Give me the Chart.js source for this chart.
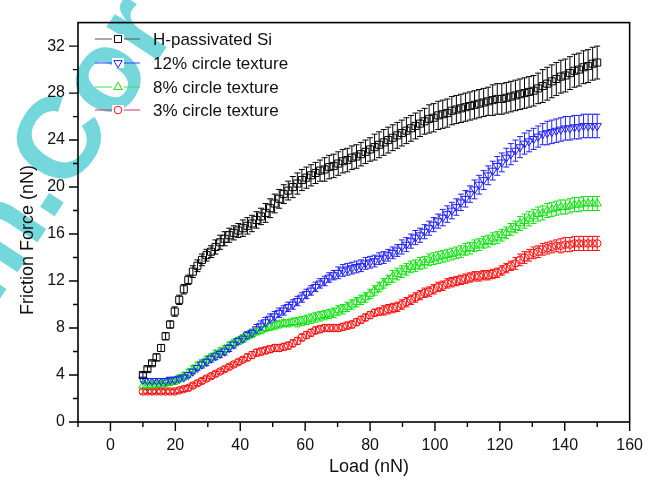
<!DOCTYPE html>
<html>
<head>
<meta charset="utf-8">
<script src="https://cdn.jsdelivr.net/npm/chart.js@4.4.1/dist/chart.umd.min.js"></script>
<style>
  html, body { margin: 0; padding: 0; background: #fff; }
  #wrap { width: 657px; height: 480px; }
</style>
</head>
<body>
<div id="wrap"><canvas id="friction" width="657" height="480"></canvas></div>
<script>
// load values (nN)
const loads = [
  10, 11.4, 12.8, 14.2, 15.6, 17, 18.4, 19.8, 21.2, 22.6,
  24, 25.4, 26.8, 28.2, 29.6, 31, 32.4, 33.8, 35.2, 36.6,
  38, 39.4, 40.8, 42.2, 43.6, 45, 46.4, 47.8, 49.2, 50.6,
  52, 53.4, 54.8, 56.2, 57.6, 59, 60.4, 61.8, 63.2, 64.6,
  66, 67.4, 68.8, 70.2, 71.6, 73, 74.4, 75.8, 77.2, 78.6,
  80, 81.4, 82.8, 84.2, 85.6, 87, 88.4, 89.8, 91.2, 92.6,
  94, 95.4, 96.8, 98.2, 99.6, 101, 102.4, 103.8, 105.2, 106.6,
  108, 109.4, 110.8, 112.2, 113.6, 115, 116.4, 117.8, 119.2, 120.6,
  122, 123.4, 124.8, 126.2, 127.6, 129, 130.4, 131.8, 133.2, 134.6,
  136, 137.4, 138.8, 140.2, 141.6, 143, 144.4, 145.8, 147.2, 148.6,
  150
];

// friction force (nN) and error bars
const hSi = [
  4.0, 4.5, 5.0, 5.5, 6.3, 7.3, 8.3, 9.4, 10.4, 11.3,
  12.1, 12.8, 13.3, 13.8, 14.2, 14.5, 14.9, 15.3, 15.6, 15.9,
  16.1, 16.3, 16.5, 16.7, 16.9, 17.2, 17.5, 17.8, 18.2, 18.6,
  19.0, 19.4, 19.7, 20.0, 20.3, 20.6, 20.8, 21.0, 21.2, 21.4,
  21.5, 21.7, 21.8, 22.0, 22.2, 22.3, 22.5, 22.6, 22.8, 23.0,
  23.2, 23.4, 23.6, 23.8, 24.0, 24.2, 24.4, 24.6, 24.8, 25.0,
  25.2, 25.4, 25.6, 25.8, 25.9, 26.1, 26.2, 26.3, 26.5, 26.6,
  26.7, 26.8, 26.9, 27.0, 27.1, 27.2, 27.3, 27.4, 27.5, 27.5,
  27.6, 27.7, 27.8, 27.9, 28.0, 28.1, 28.2, 28.4, 28.6, 28.8,
  29.0, 29.2, 29.4, 29.5, 29.7, 29.9, 30.0, 30.2, 30.3, 30.5,
  30.6
];
const hSiErr = [
  0.2, 0.2, 0.2, 0.3, 0.3, 0.3, 0.3, 0.4, 0.4, 0.4,
  0.4, 0.5, 0.5, 0.5, 0.5, 0.5, 0.6, 0.6, 0.6, 0.6,
  0.6, 0.6, 0.7, 0.7, 0.7, 0.7, 0.7, 0.8, 0.8, 0.8,
  0.8, 0.8, 0.8, 0.9, 0.9, 0.9, 0.9, 0.9, 0.9, 0.9,
  1.0, 1.0, 1.0, 1.0, 1.0, 1.0, 1.0, 1.0, 1.0, 1.0,
  1.0, 1.1, 1.1, 1.1, 1.1, 1.1, 1.1, 1.1, 1.1, 1.1,
  1.1, 1.1, 1.1, 1.2, 1.2, 1.2, 1.2, 1.2, 1.2, 1.2,
  1.2, 1.2, 1.2, 1.2, 1.2, 1.2, 1.2, 1.3, 1.3, 1.3,
  1.3, 1.3, 1.3, 1.3, 1.3, 1.3, 1.3, 1.3, 1.4, 1.4,
  1.4, 1.4, 1.4, 1.4, 1.4, 1.4, 1.4, 1.4, 1.4, 1.4,
  1.4
];

const tex12 = [
  3.6, 3.5, 3.5, 3.5, 3.5, 3.5, 3.6, 3.6, 3.7, 3.8,
  4.0, 4.3, 4.6, 4.9, 5.1, 5.4, 5.6, 5.8, 6.0, 6.3,
  6.6, 6.9, 7.1, 7.4, 7.6, 7.9, 8.2, 8.5, 8.8, 9.0,
  9.3, 9.5, 9.8, 10.0, 10.3, 10.6, 10.9, 11.2, 11.5, 11.8,
  12.0, 12.3, 12.5, 12.7, 12.9, 13.0, 13.1, 13.2, 13.3, 13.5,
  13.6, 13.7, 13.9, 14.0, 14.2, 14.4, 14.6, 14.9, 15.1, 15.4,
  15.7, 15.9, 16.2, 16.5, 16.8, 17.1, 17.4, 17.7, 18.0, 18.3,
  18.7, 19.0, 19.4, 19.8, 20.2, 20.6, 21.0, 21.4, 21.8, 22.1,
  22.5, 22.8, 23.1, 23.4, 23.7, 23.9, 24.1, 24.3, 24.5, 24.6,
  24.7, 24.8, 24.9, 25.0, 25.0, 25.1, 25.1, 25.2, 25.2, 25.2,
  25.2
];
const tex12Err = [
  0.2, 0.2, 0.2, 0.2, 0.2, 0.2, 0.2, 0.2, 0.2, 0.2,
  0.2, 0.2, 0.2, 0.3, 0.3, 0.3, 0.3, 0.3, 0.3, 0.3,
  0.3, 0.3, 0.3, 0.3, 0.3, 0.4, 0.4, 0.4, 0.4, 0.4,
  0.4, 0.4, 0.4, 0.4, 0.4, 0.4, 0.4, 0.4, 0.4, 0.4,
  0.4, 0.4, 0.4, 0.5, 0.5, 0.5, 0.5, 0.5, 0.5, 0.5,
  0.5, 0.5, 0.5, 0.5, 0.5, 0.5, 0.5, 0.6, 0.6, 0.6,
  0.6, 0.6, 0.6, 0.6, 0.6, 0.6, 0.7, 0.7, 0.7, 0.7,
  0.7, 0.7, 0.7, 0.8, 0.8, 0.8, 0.8, 0.8, 0.8, 0.8,
  0.8, 0.9, 0.9, 0.9, 0.9, 0.9, 0.9, 0.9, 0.9, 1.0,
  1.0, 1.0, 1.0, 1.0, 1.0, 1.0, 1.0, 1.0, 1.0, 1.0,
  1.0
];

const tex8 = [
  3.1, 3.1, 3.1, 3.2, 3.2, 3.3, 3.4, 3.5, 3.7, 3.9,
  4.2, 4.5, 4.8, 5.0, 5.3, 5.5, 5.8, 6.0, 6.2, 6.5,
  6.7, 6.9, 7.1, 7.3, 7.5, 7.7, 7.8, 8.0, 8.1, 8.2,
  8.3, 8.4, 8.4, 8.5, 8.5, 8.6, 8.7, 8.8, 8.9, 9.0,
  9.1, 9.2, 9.3, 9.5, 9.6, 9.8, 10.0, 10.2, 10.4, 10.6,
  10.9, 11.2, 11.5, 11.8, 12.1, 12.4, 12.6, 12.8, 13.0, 13.2,
  13.3, 13.5, 13.6, 13.8, 13.9, 14.0, 14.1, 14.2, 14.3, 14.4,
  14.5, 14.7, 14.8, 15.0, 15.1, 15.3, 15.4, 15.6, 15.7, 15.9,
  16.1, 16.4, 16.6, 16.9, 17.1, 17.3, 17.5, 17.7, 17.8, 18.0,
  18.1, 18.2, 18.3, 18.3, 18.4, 18.5, 18.5, 18.6, 18.6, 18.6,
  18.6
];
const tex8Err = [
  0.3, 0.3, 0.3, 0.3, 0.3, 0.3, 0.3, 0.3, 0.3, 0.3,
  0.3, 0.3, 0.3, 0.3, 0.3, 0.3, 0.3, 0.3, 0.3, 0.3,
  0.3, 0.3, 0.3, 0.3, 0.3, 0.3, 0.3, 0.3, 0.3, 0.3,
  0.3, 0.3, 0.3, 0.3, 0.4, 0.4, 0.4, 0.4, 0.4, 0.4,
  0.4, 0.4, 0.4, 0.4, 0.4, 0.4, 0.4, 0.4, 0.4, 0.4,
  0.4, 0.4, 0.4, 0.4, 0.4, 0.5, 0.5, 0.5, 0.5, 0.5,
  0.5, 0.5, 0.5, 0.5, 0.5, 0.5, 0.5, 0.5, 0.5, 0.5,
  0.5, 0.5, 0.5, 0.5, 0.5, 0.5, 0.5, 0.5, 0.5, 0.5,
  0.5, 0.5, 0.5, 0.6, 0.6, 0.6, 0.6, 0.6, 0.6, 0.6,
  0.6, 0.6, 0.6, 0.6, 0.6, 0.6, 0.6, 0.6, 0.6, 0.6,
  0.6
];

const tex3 = [
  2.6, 2.6, 2.6, 2.6, 2.6, 2.6, 2.6, 2.6, 2.7, 2.8,
  2.9, 3.1, 3.3, 3.5, 3.7, 3.9, 4.1, 4.3, 4.5, 4.7,
  4.9, 5.1, 5.3, 5.5, 5.7, 5.9, 6.0, 6.1, 6.2, 6.3,
  6.3, 6.4, 6.5, 6.7, 6.9, 7.2, 7.4, 7.6, 7.8, 7.9,
  8.0, 8.0, 8.0, 8.0, 8.1, 8.2, 8.3, 8.5, 8.7, 8.9,
  9.1, 9.3, 9.4, 9.5, 9.6, 9.7, 9.8, 10.0, 10.2, 10.4,
  10.6, 10.8, 11.0, 11.1, 11.3, 11.5, 11.6, 11.8, 11.9, 12.0,
  12.1, 12.2, 12.3, 12.4, 12.4, 12.5, 12.5, 12.6, 12.7, 12.9,
  13.1, 13.3, 13.5, 13.8, 14.0, 14.2, 14.4, 14.5, 14.7, 14.8,
  14.9, 15.0, 15.0, 15.1, 15.1, 15.2, 15.2, 15.2, 15.2, 15.2,
  15.2
];
const tex3Err = [
  0.2, 0.2, 0.2, 0.2, 0.2, 0.2, 0.2, 0.2, 0.2, 0.2,
  0.2, 0.2, 0.2, 0.2, 0.2, 0.2, 0.2, 0.2, 0.2, 0.2,
  0.2, 0.2, 0.2, 0.3, 0.3, 0.3, 0.3, 0.3, 0.3, 0.3,
  0.3, 0.3, 0.3, 0.3, 0.3, 0.3, 0.3, 0.3, 0.3, 0.3,
  0.3, 0.3, 0.3, 0.3, 0.3, 0.3, 0.3, 0.3, 0.3, 0.3,
  0.3, 0.3, 0.3, 0.4, 0.4, 0.4, 0.4, 0.4, 0.4, 0.4,
  0.4, 0.4, 0.4, 0.4, 0.4, 0.4, 0.4, 0.4, 0.4, 0.4,
  0.4, 0.4, 0.4, 0.4, 0.4, 0.4, 0.4, 0.4, 0.4, 0.4,
  0.4, 0.4, 0.5, 0.5, 0.5, 0.5, 0.5, 0.5, 0.5, 0.5,
  0.5, 0.5, 0.6, 0.6, 0.6, 0.6, 0.6, 0.6, 0.6, 0.6,
  0.6
];

const seriesNames = ['H-passivated Si', '12% circle texture', '8% circle texture', '3% circle texture'];
const xMajor = [0, 20, 40, 60, 80, 100, 120, 140, 160];
const xMinor = [-10, 10, 30, 50, 70, 90, 110, 130, 150];
const yMajor = [0, 4, 8, 12, 16, 20, 24, 28, 32];
const yMinor = [2, 6, 10, 14, 18, 22, 26, 30];

const FONT = "'Liberation Sans', Arial, sans-serif";

const styles = [
  { color: '#000000', legendLine: '#555555', shape: 'rect', radius: 5, rotation: 0 },
  { color: '#2020ff', legendLine: '#3a3aff', shape: 'triangle', radius: 4.8, rotation: 180 },
  { color: '#10e010', legendLine: '#40e040', shape: 'triangle', radius: 4.8, rotation: 0 },
  { color: '#ff1010', legendLine: '#cc3366', shape: 'circle', radius: 3.8, rotation: 0 }
];

const values = [hSi, tex12, tex8, tex3];
const errors = [hSiErr, tex12Err, tex8Err, tex3Err];

function toPoints(ys) {
    return loads.map((x, i) => ({ x: x, y: ys[i] }));
}

function drawMark(ctx, s, x, y) {
    ctx.beginPath();
    if (s.shape === 'rect') {
        let h = s.radius * Math.SQRT1_2;
        ctx.rect(x - h, y - h, 2 * h, 2 * h);
    } else if (s.shape === 'triangle') {
        let rad = s.rotation * Math.PI / 180;
        for (let k = 0; k < 3; k++) {
            let a = rad + k * 2 * Math.PI / 3;
            let px = x + Math.sin(a) * s.radius, py = y - Math.cos(a) * s.radius;
            if (k === 0) ctx.moveTo(px, py); else ctx.lineTo(px, py);
        }
        ctx.closePath();
    } else {
        ctx.arc(x, y, s.radius, 0, Math.PI * 2);
    }
    ctx.stroke();
}

const watermark = {
    id: 'watermark',
    beforeDraw(chart) {
        const ctx = chart.ctx;
        ctx.save();
        ctx.translate(68, 196);
        ctx.rotate(-56.5 * Math.PI / 180);
        ctx.fillStyle = '#74d7dc';
        ctx.font = "bold 116px " + FONT;
        ctx.textBaseline = 'alphabetic';
        ctx.textAlign = 'left';
        ctx.fillText('Cor', 0, 0);
        ctx.textAlign = 'right';
        ctx.fillText('m.', 0, 0);
        ctx.restore();
    }
};

const errorBars = {
    id: 'errorBars',
    beforeDatasetsDraw(chart) {
        const { ctx, scales: { x, y } } = chart;
        ctx.save();
        ctx.lineWidth = 1;
        values.forEach((ys, d) => {
            ctx.strokeStyle = styles[d].color;
            ctx.beginPath();
            ys.forEach((v, i) => {
                let px = x.getPixelForValue(loads[i]);
                let top = y.getPixelForValue(v + errors[d][i]);
                let bot = y.getPixelForValue(v - errors[d][i]);
                ctx.moveTo(px, top); ctx.lineTo(px, bot);
                ctx.moveTo(px - 3, top); ctx.lineTo(px + 3, top);
                ctx.moveTo(px - 3, bot); ctx.lineTo(px + 3, bot);
            });
            ctx.stroke();
        });
        ctx.restore();
    }
};

const frame = {
    id: 'frame',
    afterDraw(chart) {
        const { ctx, chartArea: a, scales: { x, y } } = chart;
        ctx.save();
        ctx.strokeStyle = '#000';
        ctx.lineWidth = 1.6;
        ctx.strokeRect(a.left, a.top, a.right - a.left, a.bottom - a.top);

        ctx.lineWidth = 1.4;
        ctx.beginPath();
        xMajor.forEach(v => { let p = x.getPixelForValue(v); ctx.moveTo(p, a.bottom); ctx.lineTo(p, a.bottom + 9); });
        xMinor.forEach(v => { let p = x.getPixelForValue(v); ctx.moveTo(p, a.bottom); ctx.lineTo(p, a.bottom + 5); });
        yMajor.forEach(v => { let p = y.getPixelForValue(v); ctx.moveTo(a.left, p); ctx.lineTo(a.left - 9, p); });
        yMinor.forEach(v => { let p = y.getPixelForValue(v); ctx.moveTo(a.left, p); ctx.lineTo(a.left - 5, p); });
        ctx.stroke();

        // axis titles
        ctx.fillStyle = '#111';
        ctx.font = "18px " + FONT;
        ctx.textAlign = 'center';
        ctx.textBaseline = 'middle';
        ctx.fillText('Load (nN)', 369, 467);
        ctx.save();
        ctx.translate(28, 240);
        ctx.rotate(-Math.PI / 2);
        ctx.fillText('Friction Force (nN)', 0, 0);
        ctx.restore();

        // legend
        const rows = [39, 63, 87, 110];
        ctx.font = "17px " + FONT;
        ctx.textAlign = 'left';
        seriesNames.forEach((name, d) => {
            let s = styles[d];
            ctx.strokeStyle = s.legendLine;
            ctx.lineWidth = 1;
            ctx.beginPath();
            ctx.moveTo(95, rows[d]); ctx.lineTo(140, rows[d]);
            ctx.stroke();
            ctx.fillStyle = '#fff';
            ctx.fillRect(112, rows[d] - 5, 12, 10);
            ctx.strokeStyle = s.color;
            drawMark(ctx, s, 118, rows[d]);
            ctx.fillStyle = '#111';
            ctx.fillText(name, 153, rows[d] + 1);
        });
        ctx.restore();
    }
};

new Chart(document.getElementById('friction'), {
    type: 'scatter',
    data: {
        datasets: values.map((ys, d) => ({
            label: seriesNames[d],
            data: toPoints(ys),
            showLine: false,
            borderColor: styles[d].color,
            backgroundColor: 'rgba(0,0,0,0)',
            pointStyle: styles[d].shape,
            pointRadius: styles[d].radius,
            pointRotation: styles[d].rotation,
            pointBorderWidth: 1
        }))
    },
    options: {
        responsive: false,
        animation: false,
        layout: { padding: { left: 0, right: 27, top: 10, bottom: 0 } },
        plugins: {
            legend: { display: false },
            tooltip: { enabled: false }
        },
        scales: {
            x: {
                type: 'linear',
                min: -10,
                max: 160,
                afterBuildTicks(scale) { scale.ticks = xMajor.map(v => ({ value: v })); },
                afterFit(scale) { scale.height = 58; },
                grid: { display: false, drawTicks: false },
                border: { display: false },
                ticks: { color: '#111', padding: 14, maxRotation: 0, font: { family: FONT, size: 16 } }
            },
            y: {
                type: 'linear',
                min: 0,
                max: 34,
                afterBuildTicks(scale) { scale.ticks = yMajor.map(v => ({ value: v })); },
                afterFit(scale) { scale.width = 78; },
                grid: { display: false, drawTicks: false },
                border: { display: false },
                ticks: { color: '#111', padding: 13, font: { family: FONT, size: 16 } }
            }
        }
    },
    plugins: [watermark, errorBars, frame]
});
</script>
</body>
</html>
